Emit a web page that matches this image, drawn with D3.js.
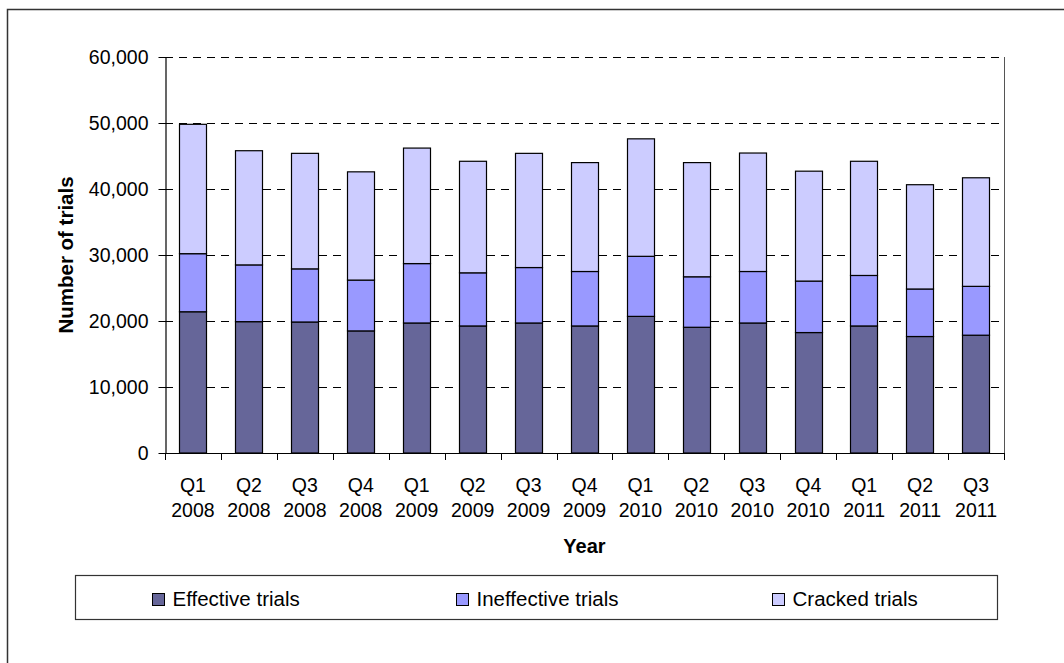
<!DOCTYPE html>
<html>
<head>
<meta charset="utf-8">
<script src="https://cdn.jsdelivr.net/npm/d3@7/dist/d3.min.js"></script>
<style>
  html, body { margin: 0; padding: 0; background: #fff; }
  svg { display: block; font-family: "Liberation Sans", Arial, Helvetica, sans-serif; }
</style>
</head>
<body>
<svg id="chart" width="1064" height="663"></svg>
<script>
// Quarterly trial outcomes (number of trials)
const quarters = ["Q1", "Q2", "Q3", "Q4", "Q1", "Q2", "Q3", "Q4", "Q1", "Q2", "Q3", "Q4", "Q1", "Q2", "Q3"];
const years = ["2008", "2008", "2008", "2008", "2009", "2009", "2009", "2009", "2010", "2010", "2010", "2010", "2011", "2011", "2011"];
const effective = [21400, 19900, 19850, 18500, 19700, 19250, 19700, 19250, 20700, 19050, 19700, 18250, 19250, 17650, 17850];
const ineffective = [8800, 8600, 8050, 7700, 9000, 8050, 8400, 8250, 9100, 7650, 7800, 7800, 7650, 7200, 7400];
const cracked = [19600, 17300, 17500, 16400, 17500, 16900, 17300, 16500, 17800, 17300, 17950, 16650, 17300, 15800, 16450];
const seriesNames = ["Effective trials", "Ineffective trials", "Cracked trials"];
const seriesColors = ["#666699", "#9999ff", "#ccccff"];
const yTicks = [0, 10000, 20000, 30000, 40000, 50000, 60000];

const svg = d3.select("#chart");

// Outer chart frame
svg.append("rect")
  .attr("x", 7.5).attr("y", 9.5)
  .attr("width", 1100).attr("height", 700)
  .attr("fill", "none").attr("stroke", "#333").attr("stroke-width", 1.5);

const plot = { left: 165, right: 1004, top: 57, bottom: 453 };
const ids = quarters.map((q, i) => i);

const x = d3.scaleBand()
  .domain(ids)
  .range([plot.left, plot.right])
  .paddingInner(0.51)
  .paddingOuter(0.255);

const y = d3.scaleLinear().domain([0, 60000]).range([plot.bottom, plot.top]);

// Dashed gridlines
svg.append("g")
  .selectAll("line")
  .data(yTicks.filter(t => t > 0))
  .join("line")
  .attr("x1", plot.left).attr("x2", plot.right)
  .attr("y1", d => Math.round(y(d)) + 0.5).attr("y2", d => Math.round(y(d)) + 0.5)
  .attr("stroke", "#000").attr("stroke-width", 1)
  .attr("stroke-dasharray", "8,6");

// Right edge of plot area
svg.append("line")
  .attr("x1", plot.right + 0.5).attr("x2", plot.right + 0.5)
  .attr("y1", plot.top).attr("y2", plot.bottom)
  .attr("stroke", "#555").attr("stroke-width", 1);

// Stacked bars
const rows = ids.map(i => ({ i, effective: effective[i], ineffective: ineffective[i], cracked: cracked[i] }));
const stack = d3.stack().keys(["effective", "ineffective", "cracked"]);
const layers = stack(rows);

svg.append("g")
  .selectAll("g")
  .data(layers)
  .join("g")
  .attr("fill", (d, k) => seriesColors[k])
  .selectAll("rect")
  .data(d => d)
  .join("rect")
  .attr("x", d => Math.round(x(d.data.i)) + 0.5)
  .attr("width", Math.round(x.bandwidth()))
  .attr("y", d => y(d[1]))
  .attr("height", d => y(d[0]) - y(d[1]))
  .attr("stroke", "#000")
  .attr("stroke-width", 1.2);

// Y axis
const yAxis = svg.append("g")
  .attr("transform", `translate(${plot.left + 0.5},0)`)
  .call(d3.axisLeft(y).tickValues(yTicks).tickFormat(d3.format(",")).tickSize(7).tickPadding(10).tickSizeOuter(0));
yAxis.select(".domain").attr("stroke", "#000").attr("stroke-width", 1.2);
yAxis.selectAll(".tick line").attr("stroke", "#000");
yAxis.selectAll(".tick text")
  .attr("font-size", "19.5px")
  .attr("fill", "#000")
  .attr("font-family", "Liberation Sans, Arial, sans-serif");

// X axis line and category boundary ticks
const xAxis = svg.append("g");
xAxis.append("line")
  .attr("x1", plot.left).attr("x2", plot.right + 1)
  .attr("y1", plot.bottom + 0.5).attr("y2", plot.bottom + 0.5)
  .attr("stroke", "#000").attr("stroke-width", 1.2);
const step = x.step();
xAxis.selectAll("line.tick")
  .data(d3.range(ids.length + 1))
  .join("line")
  .attr("class", "tick")
  .attr("x1", d => Math.round(plot.left + d * step) + 0.5)
  .attr("x2", d => Math.round(plot.left + d * step) + 0.5)
  .attr("y1", plot.bottom).attr("y2", plot.bottom + 7)
  .attr("stroke", "#000");

// Category labels (quarter over year)
const labels = xAxis.selectAll("text.cat")
  .data(ids)
  .join("text")
  .attr("class", "cat")
  .attr("text-anchor", "middle")
  .attr("font-size", "19.5px")
  .attr("fill", "#000");
labels.append("tspan")
  .attr("x", d => x(d) + x.bandwidth() / 2)
  .attr("y", 491.5)
  .text(d => quarters[d]);
labels.append("tspan")
  .attr("x", d => x(d) + x.bandwidth() / 2)
  .attr("y", 516.5)
  .text(d => years[d]);

// Axis titles
svg.append("text")
  .attr("x", (plot.left + plot.right) / 2)
  .attr("y", 553)
  .attr("text-anchor", "middle")
  .attr("font-size", "20px")
  .attr("font-weight", "bold")
  .text("Year");

svg.append("text")
  .attr("transform", `translate(72.5,${(plot.top + plot.bottom) / 2}) rotate(-90)`)
  .attr("text-anchor", "middle")
  .attr("font-size", "20.5px")
  .attr("font-weight", "bold")
  .text("Number of trials");

// Legend
const legend = svg.append("g");
legend.append("rect")
  .attr("x", 75.5).attr("y", 575.5)
  .attr("width", 922).attr("height", 44)
  .attr("fill", "#fff").attr("stroke", "#333").attr("stroke-width", 1.2);
const legendX = [152, 456, 772];
const items = legend.selectAll("g.item")
  .data(seriesNames)
  .join("g")
  .attr("class", "item")
  .attr("transform", (d, k) => `translate(${legendX[k]},0)`);
items.append("rect")
  .attr("x", 0.5).attr("y", 593.5)
  .attr("width", 12).attr("height", 12)
  .attr("fill", (d, k) => seriesColors[k])
  .attr("stroke", "#000").attr("stroke-width", 1);
items.append("text")
  .attr("x", 20.5)
  .attr("y", 605.5)
  .attr("font-size", "20.5px")
  .attr("fill", "#000")
  .text(d => d);
</script>
</body>
</html>
